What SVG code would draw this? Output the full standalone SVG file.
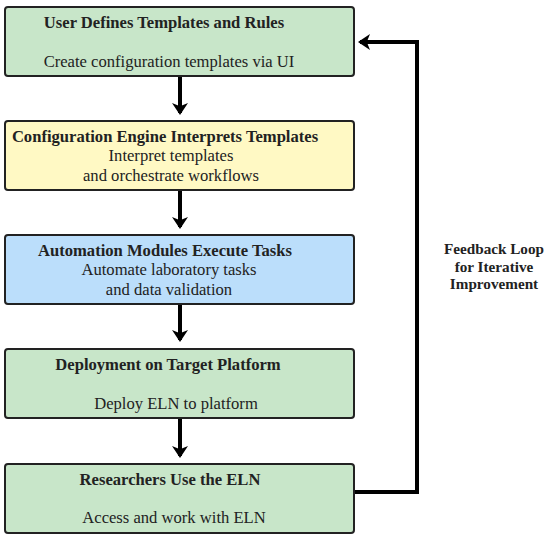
<svg xmlns="http://www.w3.org/2000/svg" width="550" height="540" viewBox="0 0 550 540">
<style>
.box{stroke:#222;stroke-width:2}
.t{font-family:"Liberation Serif","Times New Roman",serif;font-weight:bold;font-size:16.6px;fill:#222;text-anchor:middle}
.f{font-family:"Liberation Serif","Times New Roman",serif;font-weight:bold;font-size:15.2px;fill:#222;text-anchor:middle}
.s{font-family:"Liberation Serif","Times New Roman",serif;font-size:16.6px;fill:#222;text-anchor:middle}
.c{fill:none;stroke:#000;stroke-width:4}
</style>
<defs>
<marker id="ah" markerWidth="4" markerHeight="4" refX="2.5" refY="2" orient="auto" markerUnits="strokeWidth">
<path d="M0,0 L3,2 L0,4 L0.8,2 Z" fill="#000"/>
</marker>
</defs>
<rect width="550" height="540" fill="#fff"/>
<g id="connectors">
<line class="c" x1="180" y1="76" x2="180" y2="113" marker-end="url(#ah)"/>
<line class="c" x1="180" y1="190" x2="180" y2="227" marker-end="url(#ah)"/>
<line class="c" x1="180" y1="304" x2="180" y2="340" marker-end="url(#ah)"/>
<line class="c" x1="180" y1="418" x2="180" y2="456" marker-end="url(#ah)"/>
<polyline class="c" points="355,492 417,492 417,42 360,42" marker-end="url(#ah)"/>
<text class="f" x="494" y="254">Feedback Loop</text>
<text class="f" x="494" y="271.5">for Iterative</text>
<text class="f" x="494" y="289">Improvement</text>
</g>
<g id="n1">
<rect class="box" x="5" y="7" width="349" height="69" rx="3" fill="#c8e6c9"/>
<text class="t" x="164" y="28">User Defines Templates and Rules</text>
<text class="s" x="169" y="67">Create configuration templates via UI</text>
</g>
<g id="n2">
<rect class="box" x="5" y="121" width="349" height="69" rx="3" fill="#fff9c4"/>
<text class="t" x="165" y="142">Configuration Engine Interprets Templates</text>
<text class="s" x="171" y="161">Interpret templates</text>
<text class="s" x="171" y="181">and orchestrate workflows</text>
</g>
<g id="n3">
<rect class="box" x="5" y="235" width="349" height="69" rx="3" fill="#bbdefb"/>
<text class="t" x="165" y="256">Automation Modules Execute Tasks</text>
<text class="s" x="169" y="275">Automate laboratory tasks</text>
<text class="s" x="169" y="295">and data validation</text>
</g>
<g id="n4">
<rect class="box" x="5" y="349" width="349" height="69" rx="3" fill="#c8e6c9"/>
<text class="t" x="168" y="370">Deployment on Target Platform</text>
<text class="s" x="176" y="409">Deploy ELN to platform</text>
</g>
<g id="n5">
<rect class="box" x="5" y="464" width="349" height="69" rx="3" fill="#c8e6c9"/>
<text class="t" x="170" y="485">Researchers Use the ELN</text>
<text class="s" x="174" y="523">Access and work with ELN</text>
</g>
</svg>
